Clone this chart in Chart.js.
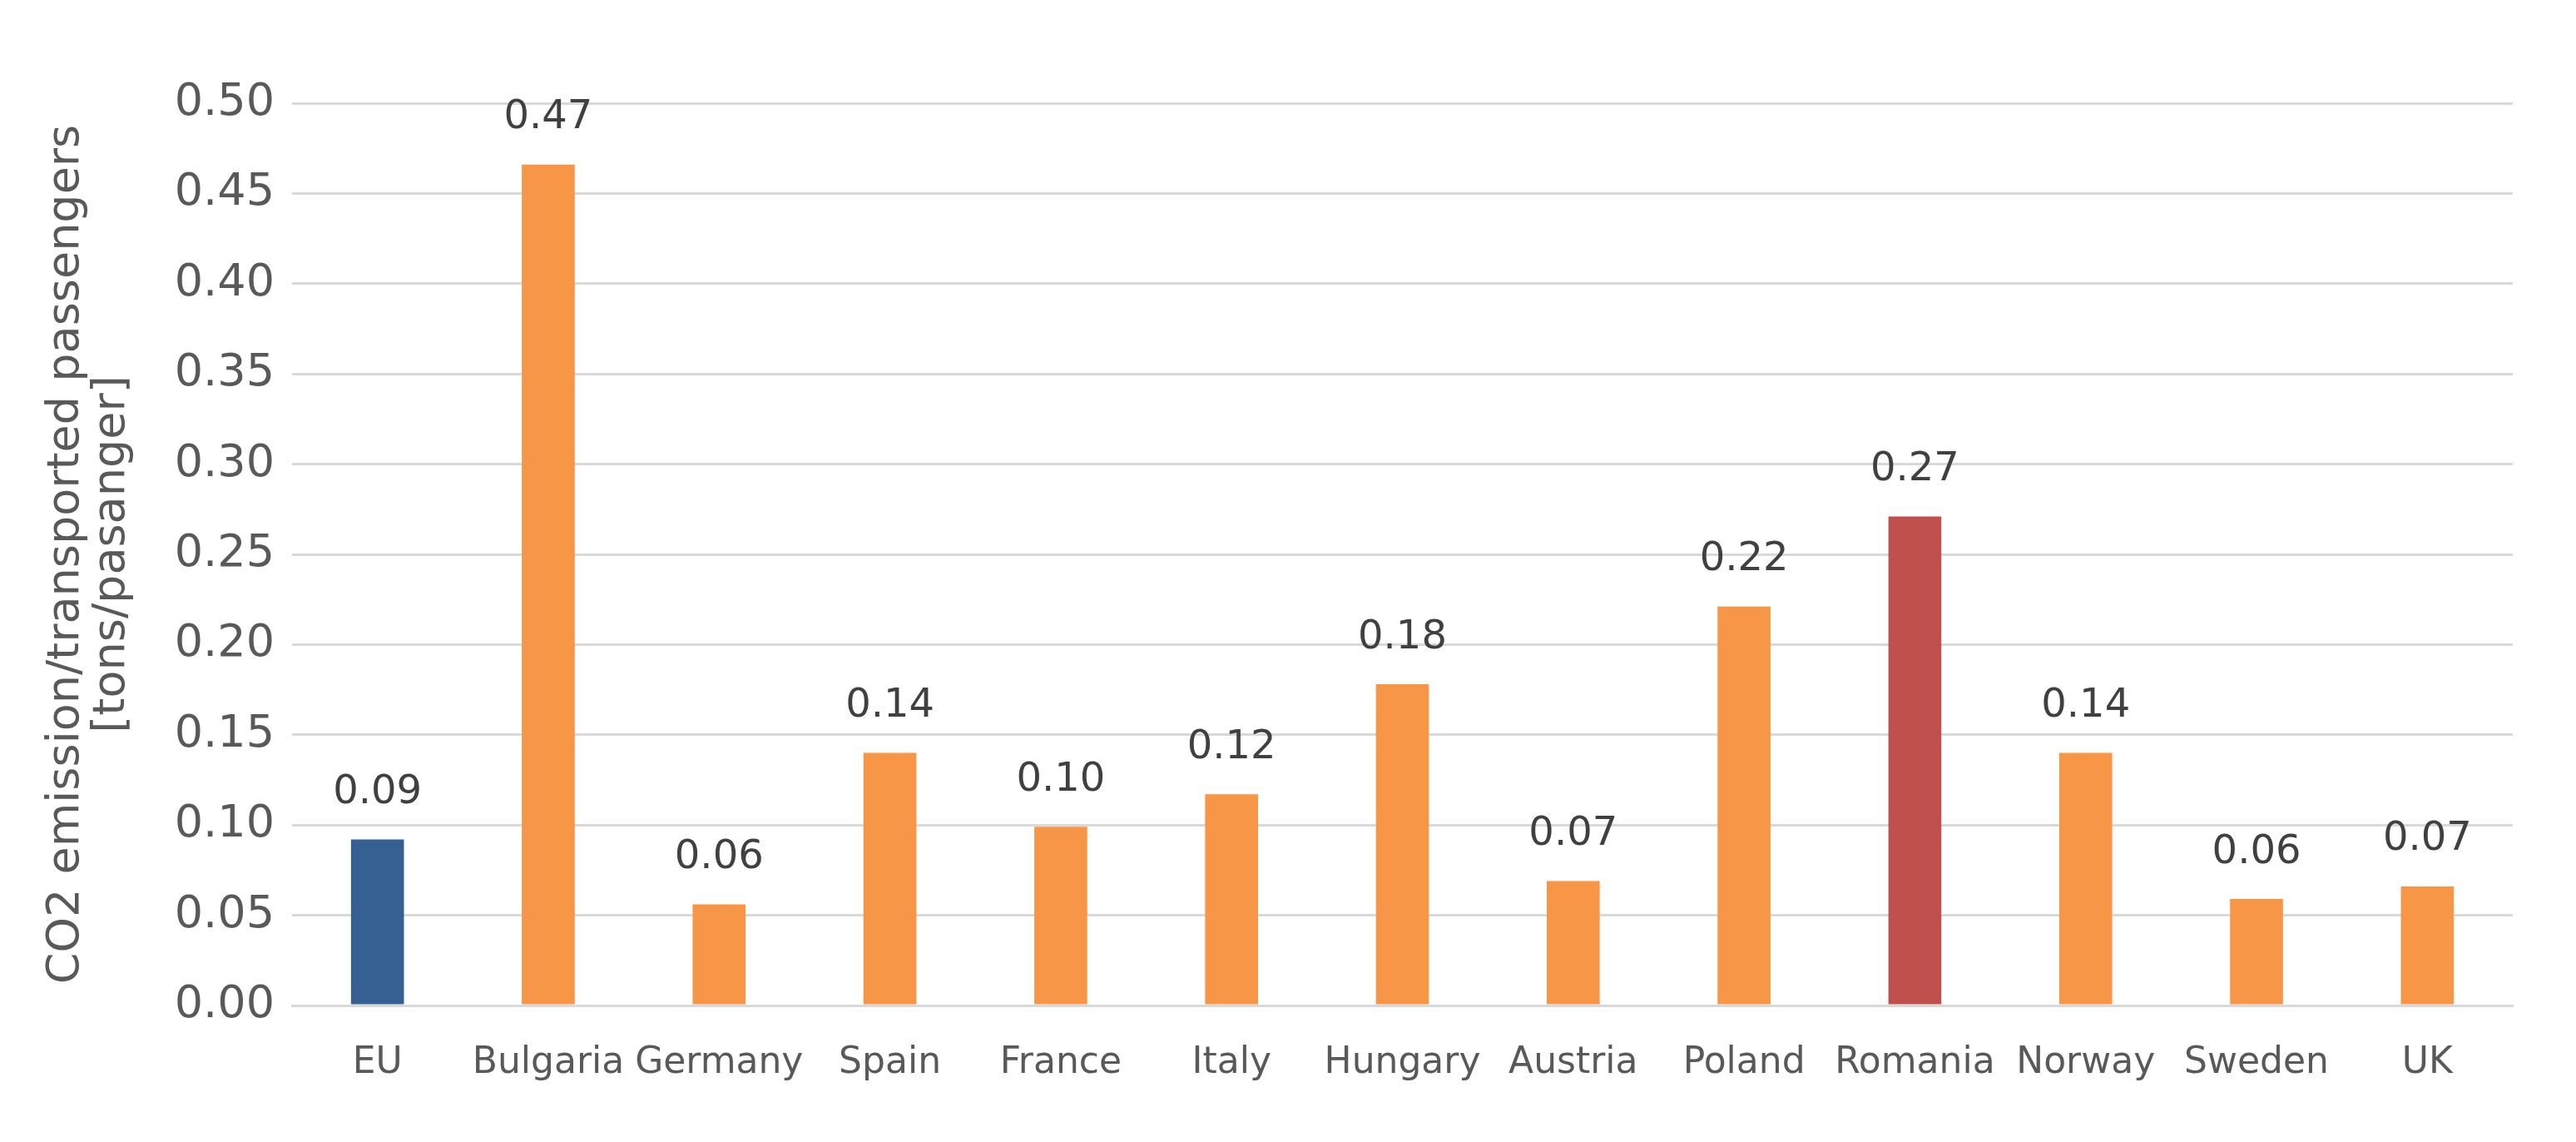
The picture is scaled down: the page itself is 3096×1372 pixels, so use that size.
<!DOCTYPE html>
<html>
<head>
<meta charset="utf-8">
<script src="https://cdn.jsdelivr.net/npm/chart.js@4.4.1/dist/chart.umd.min.js"></script>
<style>
  html, body { margin: 0; padding: 0; background: #fff; }
  #wrap { width: 3096px; height: 1372px; }
</style>
</head>
<body>
<div id="wrap"><canvas id="myChart" width="3096" height="1372"></canvas></div>
<script>
// Data
const countries = ['EU', 'Bulgaria', 'Germany', 'Spain', 'France', 'Italy', 'Hungary',
                   'Austria', 'Poland', 'Romania', 'Norway', 'Sweden', 'UK'];
const emissions = [0.092, 0.466, 0.056, 0.140, 0.099, 0.117, 0.178,
                   0.069, 0.221, 0.271, 0.140, 0.059, 0.066];
const yTicks = [0, 0.05, 0.10, 0.15, 0.20, 0.25, 0.30, 0.35, 0.40, 0.45, 0.50];
const yTitle = ['CO2 emission/transported passengers', '[tons/pasanger]'];

// EU highlighted blue, Romania red, the rest orange
const barColors = countries.map(c => c === 'EU' ? '#376092' : (c === 'Romania' ? '#C0504D' : '#F79646'));

const FONT = 'DejaVu Sans';

// Simple value-label plugin (no datalabels plugin available)
const valueLabels = {
    id: 'valueLabels',
    afterDatasetsDraw(chart) {
        const ctx = chart.ctx;
        const meta = chart.getDatasetMeta(0);
        ctx.save();
        ctx.font = '48px "' + FONT + '"';
        ctx.fillStyle = '#404040';
        ctx.textAlign = 'center';
        ctx.textBaseline = 'middle';
        meta.data.forEach((bar, i) => {
            ctx.fillText(emissions[i].toFixed(2), bar.x, bar.y - 56);
        });
        ctx.restore();
    }
};

const ctx = document.getElementById('myChart').getContext('2d');

let myChart = new Chart(ctx, {
    type: 'bar',
    data: {
        labels: countries,
        datasets: [{
            label: 'CO2 emission',
            data: emissions,
            backgroundColor: barColors,
            borderWidth: 0,
            barPercentage: 0.31,
            categoryPercentage: 1.0
        }]
    },
    options: {
        responsive: false,
        animation: false,
        layout: {
            padding: { top: 124, right: 76, bottom: 0, left: 0 }
        },
        plugins: {
            legend: { display: false },
            tooltip: { enabled: false }
        },
        scales: {
            x: {
                grid: { display: false, drawTicks: false },
                border: { display: true, color: '#D9D9D9', width: 3 },
                ticks: {
                    color: '#595959',
                    font: { family: FONT, size: 44, lineHeight: 1.2 },
                    padding: 43,
                    maxRotation: 0,
                    autoSkip: false
                },
                afterFit(scale) { scale.height = 164; }
            },
            y: {
                min: 0,
                max: 0.5,
                afterBuildTicks(scale) {
                    scale.ticks = yTicks.map(v => ({ value: v }));
                },
                grid: { color: '#D9D9D9', lineWidth: 3, drawTicks: false },
                border: { display: false },
                ticks: {
                    color: '#595959',
                    font: { family: FONT, size: 54 },
                    padding: 21,
                    callback: v => Number(v).toFixed(2)
                },
                title: {
                    display: true,
                    text: yTitle,
                    color: '#595959',
                    font: { family: FONT, size: 54, lineHeight: 1.02 },
                    padding: { top: 52, bottom: 0 }
                },
                afterFit(scale) { scale.width = 351; }
            }
        }
    },
    plugins: [valueLabels]
});
</script>
</body>
</html>
